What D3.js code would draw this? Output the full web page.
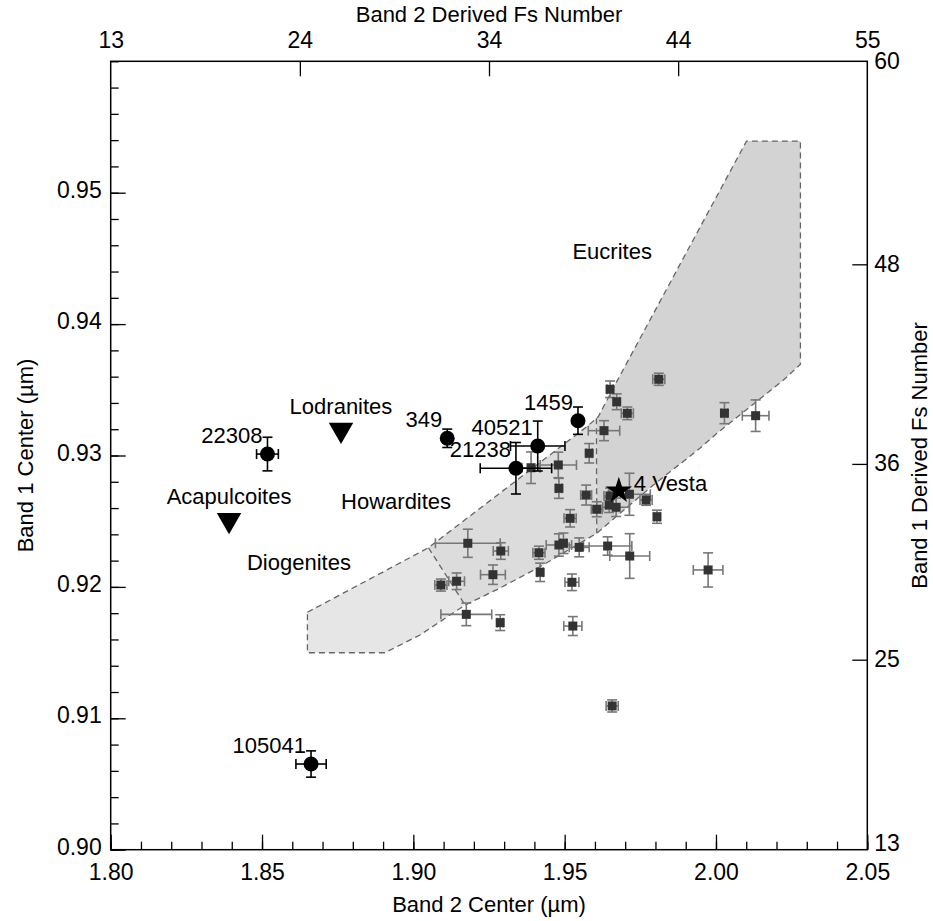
<!DOCTYPE html>
<html>
<head>
<meta charset="utf-8">
<script src="https://cdn.jsdelivr.net/npm/d3@7"></script>
<style>
  body { margin: 0; background: #fff; }
  text { font-family: "Liberation Sans", Arial, Helvetica, sans-serif; fill: #000; }
</style>
</head>
<body>
<div id="chart"></div>
<script>
// HED meteorite samples (gray squares): band 2 center, band 1 center and their errors
const sampleB2 = [1.9650, 1.9672, 1.9707, 1.9811, 1.9630, 1.9581, 1.9479, 1.9389, 1.9481, 1.9571,
                  1.9650, 1.9714, 1.9769, 1.9606, 1.9647, 1.9670, 1.9805, 1.9518, 1.9180, 1.9289,
                  1.9415, 1.9481, 1.9496, 1.9548, 1.9642, 1.9715, 1.9974, 1.9263, 1.9419, 1.9143,
                  1.9091, 1.9524, 1.9175, 1.9287, 1.9527, 2.0028, 2.0131, 1.9657];
const sampleB1 = [0.93504, 0.93409, 0.93321, 0.93580, 0.93189, 0.93017, 0.92928, 0.92907, 0.92750, 0.92699,
                  0.92692, 0.92705, 0.92661, 0.92591, 0.92623, 0.92606, 0.92534, 0.92522, 0.92332, 0.92273,
                  0.92260, 0.92319, 0.92332, 0.92301, 0.92311, 0.92235, 0.92129, 0.92093, 0.92111, 0.92043,
                  0.92014, 0.92035, 0.91791, 0.91728, 0.91702, 0.93322, 0.93303, 0.91094];
const sampleErrB2 = [0.0010, 0.0010, 0.0020, 0.0020, 0.0052, 0.0010, 0.0060, 0.0030, 0.0010, 0.0018,
                     0.0020, 0.0069, 0.0020, 0.0018, 0.0010, 0.0044, 0.0010, 0.0020, 0.0107, 0.0025,
                     0.0020, 0.0042, 0.0010, 0.0033, 0.0080, 0.0066, 0.0049, 0.0041, 0.0010, 0.0026,
                     0.0020, 0.0023, 0.0084, 0.0010, 0.0030, 0.0010, 0.0044, 0.0020];
const sampleErrB1 = [0.00063, 0.00060, 0.00048, 0.00046, 0.00076, 0.00074, 0.00097, 0.00120, 0.00076, 0.00076,
                     0.00060, 0.00160, 0.00040, 0.00057, 0.00057, 0.00070, 0.00050, 0.00066, 0.00107, 0.00063,
                     0.00050, 0.00085, 0.00078, 0.00072, 0.00070, 0.00170, 0.00130, 0.00074, 0.00070, 0.00063,
                     0.00046, 0.00063, 0.00086, 0.00060, 0.00072, 0.00080, 0.00120, 0.00046];

// Asteroids (black circles)
const asteroidNames = ["22308", "349", "40521", "21238", "1459", "105041"];
const asteroidB2 = [1.8518, 1.9112, 1.9411, 1.9339, 1.9544, 1.8662];
const asteroidB1 = [0.93011, 0.93131, 0.93072, 0.92903, 0.93265, 0.90652];
const asteroidErrB2 = [0.0036, 0.0000, 0.0090, 0.0118, 0.0000, 0.0050];
const asteroidErrB1 = [0.00128, 0.00070, 0.00190, 0.00196, 0.00104, 0.00100];

// Primitive achondrites (triangles)
const primitiveNames = ["Lodranites", "Acapulcoites"];
const primitiveB2 = [1.8761, 1.8391];
const primitiveB1 = [0.93196, 0.92509];

// 4 Vesta (star)
const vestaB2 = 1.9679;
const vestaB1 = 0.92732;

// HED regions
const diogeniteRegion = [[1.8650, 0.91807], [1.9050, 0.92298], [1.9171, 0.91862], [1.9022, 0.91634],
                         [1.8906, 0.91499], [1.8650, 0.91499]];
const howarditeRegion = [[1.9050, 0.92298], [1.9573, 0.93219], [1.9605, 0.93283], [1.9606, 0.92408],
                         [1.9419, 0.92154], [1.9287, 0.91992], [1.9171, 0.91862]];
const eucriteRegion = [[1.9605, 0.93283], [1.9611, 0.93295], [1.9672, 0.93562], [2.0101, 0.95393],
                       [2.0279, 0.95393], [2.0279, 0.93694], [2.0223, 0.93575], [2.0003, 0.93169],
                       [1.9947, 0.93055], [1.9793, 0.92775], [1.9683, 0.92560], [1.9606, 0.92408]];
const regionOutline = [[1.8650, 0.91807], [1.9050, 0.92298], [1.9573, 0.93219], [1.9611, 0.93295],
                       [1.9672, 0.93562], [2.0101, 0.95393], [2.0279, 0.95393], [2.0279, 0.93694],
                       [2.0223, 0.93575], [2.0003, 0.93169], [1.9947, 0.93055], [1.9793, 0.92775],
                       [1.9683, 0.92560], [1.9606, 0.92408], [1.9419, 0.92154], [1.9287, 0.91992],
                       [1.9171, 0.91862], [1.9022, 0.91634], [1.8906, 0.91499], [1.8650, 0.91499]];
const separators = [[[1.9050, 0.92298], [1.9171, 0.91862]],
                    [[1.9605, 0.93283], [1.9606, 0.92408]]];

// Region labels
const regionNames = ["Eucrites", "Howardites", "Diogenites"];
const regionLabelB2 = [1.9657, 1.8943, 1.8622];
const regionLabelB1 = [0.94498, 0.92593, 0.92129];

// Axis ticks
const bottomTicks = [1.80, 1.85, 1.90, 1.95, 2.00, 2.05];
const leftTicks = [0.90, 0.91, 0.92, 0.93, 0.94, 0.95];
const topTickPos = [1.80, 1.8625, 1.925, 1.9875, 2.05];
const topTickLabels = ["13", "24", "34", "44", "55"];
const rightTickPos = [0.90, 0.91446, 0.92936, 0.94455, 0.96];
const rightTickLabels = ["13", "25", "36", "48", "60"];

// Layout
const W = 933, H = 921;
const margin = { top: 61.3, left: 110.7, right: 933 - 867.3, bottom: 921 - 849.7 };
const width = W - margin.left - margin.right;
const height = H - margin.top - margin.bottom;

const svg = d3.select('#chart')
    .append('svg')
    .attr('width', W)
    .attr('height', H);
const g = svg.append('g')
    .attr('transform', `translate(${margin.left},${margin.top})`);

const x = d3.scaleLinear().domain([1.80, 2.05]).range([0, width]);
const y = d3.scaleLinear().domain([0.90, 0.96]).range([height, 0]);

const line = d3.line().x(d => x(d[0])).y(d => y(d[1]));

// Shaded regions
g.append('path').attr('d', line(diogeniteRegion) + 'Z').attr('fill', '#e6e6e6');
g.append('path').attr('d', line(howarditeRegion) + 'Z').attr('fill', '#dcdcdc');
g.append('path').attr('d', line(eucriteRegion) + 'Z').attr('fill', '#d3d3d3');

g.append('path')
    .attr('d', line(regionOutline) + 'Z')
    .attr('fill', 'none')
    .attr('stroke', '#666')
    .attr('stroke-width', 1.3)
    .attr('stroke-dasharray', '6,4');
separators.forEach(s => {
    g.append('path')
        .attr('d', line(s))
        .attr('fill', 'none')
        .attr('stroke', '#666')
        .attr('stroke-width', 1.3)
        .attr('stroke-dasharray', '6,4');
});

// Error bar helper
function errorBars(sel, cx, cy, ex, ey, color, cap) {
    const eb = sel.append('g').attr('stroke', color).attr('stroke-width', 1.6).attr('fill', 'none');
    if (ex > 0) {
        const x0 = x(cx - ex), x1 = x(cx + ex), yy = y(cy);
        eb.append('line').attr('x1', x0).attr('x2', x1).attr('y1', yy).attr('y2', yy);
        eb.append('line').attr('x1', x0).attr('x2', x0).attr('y1', yy - cap).attr('y2', yy + cap);
        eb.append('line').attr('x1', x1).attr('x2', x1).attr('y1', yy - cap).attr('y2', yy + cap);
    }
    if (ey > 0) {
        const y0 = y(cy - ey), y1 = y(cy + ey), xx = x(cx);
        eb.append('line').attr('x1', xx).attr('x2', xx).attr('y1', y0).attr('y2', y1);
        eb.append('line').attr('x1', xx - cap).attr('x2', xx + cap).attr('y1', y0).attr('y2', y0);
        eb.append('line').attr('x1', xx - cap).attr('x2', xx + cap).attr('y1', y1).attr('y2', y1);
    }
}

// Meteorite samples
const samples = sampleB2.map((b2, i) => ({ b2, b1: sampleB1[i], ex: sampleErrB2[i], ey: sampleErrB1[i] }));
const sampleG = g.append('g');
samples.forEach(d => errorBars(sampleG, d.b2, d.b1, d.ex, d.ey, '#777', 5));
sampleG.selectAll('rect')
    .data(samples)
    .enter()
    .append('rect')
    .attr('x', d => x(d.b2) - 4.5)
    .attr('y', d => y(d.b1) - 4.5)
    .attr('width', 9)
    .attr('height', 9)
    .attr('fill', '#333');

// Asteroids
const asteroids = asteroidNames.map((name, i) => ({
    name, b2: asteroidB2[i], b1: asteroidB1[i], ex: asteroidErrB2[i], ey: asteroidErrB1[i]
}));
const astG = g.append('g');
asteroids.forEach(d => errorBars(astG, d.b2, d.b1, d.ex, d.ey, '#000', 5));
astG.selectAll('circle')
    .data(asteroids)
    .enter()
    .append('circle')
    .attr('cx', d => x(d.b2))
    .attr('cy', d => y(d.b1))
    .attr('r', 7.5)
    .attr('fill', '#000');
astG.selectAll('text')
    .data(asteroids)
    .enter()
    .append('text')
    .attr('x', d => x(d.b2) - 5)
    .attr('y', d => y(d.b1) - 11)
    .attr('text-anchor', 'end')
    .style('font-size', '22px')
    .text(d => d.name);

// Primitive achondrites
const prims = primitiveNames.map((name, i) => ({ name, b2: primitiveB2[i], b1: primitiveB1[i] }));
const tri = d3.symbol().type(d3.symbolTriangle).size(260);
g.selectAll('.tri')
    .data(prims)
    .enter()
    .append('path')
    .attr('class', 'tri')
    .attr('d', tri)
    .attr('transform', d => `translate(${x(d.b2)},${y(d.b1)}) rotate(180)`)
    .attr('fill', '#000');
g.selectAll('.primlabel')
    .data(prims)
    .enter()
    .append('text')
    .attr('class', 'primlabel')
    .attr('x', d => x(d.b2))
    .attr('y', d => y(d.b1) - 16)
    .attr('text-anchor', 'middle')
    .style('font-size', '22px')
    .text(d => d.name);

// 4 Vesta
g.append('path')
    .attr('d', d3.symbol().type(d3.symbolStar).size(220))
    .attr('transform', `translate(${x(vestaB2)},${y(vestaB1)})`)
    .attr('fill', '#000');
g.append('text')
    .attr('x', x(vestaB2) + 15)
    .attr('y', y(vestaB1))
    .style('font-size', '22px')
    .text('4 Vesta');

// Region labels
g.selectAll('.reglabel')
    .data(regionNames)
    .enter()
    .append('text')
    .attr('class', 'reglabel')
    .attr('x', (d, i) => x(regionLabelB2[i]))
    .attr('y', (d, i) => y(regionLabelB1[i]))
    .attr('text-anchor', 'middle')
    .style('font-size', '22px')
    .text(d => d);

// Axes
function styleAxis(sel) {
    sel.select('.domain').remove();
    sel.selectAll('.tick line').attr('stroke', '#000').attr('stroke-width', 1.3);
    sel.selectAll('.tick text').style('font-size', '23px').attr('fill', '#000');
}

g.append('g')
    .attr('transform', `translate(0,${height})`)
    .call(d3.axisBottom(x).tickValues(d3.range(1.80, 2.0501, 0.01)).tickSize(-8).tickFormat(''))
    .call(styleAxis);
g.append('g')
    .attr('transform', `translate(0,${height})`)
    .call(d3.axisBottom(x).tickValues(bottomTicks).tickSize(-15).tickPadding(14).tickFormat(d3.format('.2f')))
    .call(styleAxis);

g.append('g')
    .call(d3.axisLeft(y).tickValues(d3.range(0.90, 0.9601, 0.002)).tickSize(-8).tickFormat(''))
    .call(styleAxis);
const leftAxis = g.append('g')
    .call(d3.axisLeft(y).tickValues(leftTicks).tickSize(-15).tickPadding(9).tickFormat(d3.format('.2f')))
    .call(styleAxis);
leftAxis.selectAll('.tick text').attr('dy', '0.2em');

const topAxis = g.append('g')
    .call(d3.axisTop(x).tickValues(topTickPos).tickSize(-15).tickPadding(13)
        .tickFormat((d, i) => topTickLabels[i]))
    .call(styleAxis);
topAxis.selectAll('.tick line').filter((d, i) => i === 0 || i === topTickPos.length - 1).remove();

const rightAxis = g.append('g')
    .attr('transform', `translate(${width},0)`)
    .call(d3.axisRight(y).tickValues(rightTickPos).tickSize(-15).tickPadding(7)
        .tickFormat((d, i) => rightTickLabels[i]))
    .call(styleAxis);
rightAxis.selectAll('.tick line').filter((d, i) => i === 0 || i === rightTickPos.length - 1).remove();
rightAxis.selectAll('.tick text').attr('dy', (d, i) => i === 0 ? '0.05em' : '0.3em');

// Frame
g.append('rect')
    .attr('width', width)
    .attr('height', height)
    .attr('fill', 'none')
    .attr('stroke', '#000')
    .attr('stroke-width', 1.5);

// Axis titles
svg.append('text')
    .attr('x', margin.left + width / 2)
    .attr('y', 912)
    .attr('text-anchor', 'middle')
    .style('font-size', '22px')
    .text('Band 2 Center (\u00b5m)');
svg.append('text')
    .attr('x', margin.left + width / 2)
    .attr('y', 22)
    .attr('text-anchor', 'middle')
    .style('font-size', '22px')
    .text('Band 2 Derived Fs Number');
svg.append('text')
    .attr('transform', `translate(33,${margin.top + height / 2}) rotate(-90)`)
    .attr('text-anchor', 'middle')
    .style('font-size', '22px')
    .text('Band 1 Center (\u00b5m)');
svg.append('text')
    .attr('transform', `translate(927,${margin.top + height / 2}) rotate(-90)`)
    .attr('text-anchor', 'middle')
    .style('font-size', '22px')
    .text('Band 1 Derived Fs Number');
</script>
</body>
</html>
